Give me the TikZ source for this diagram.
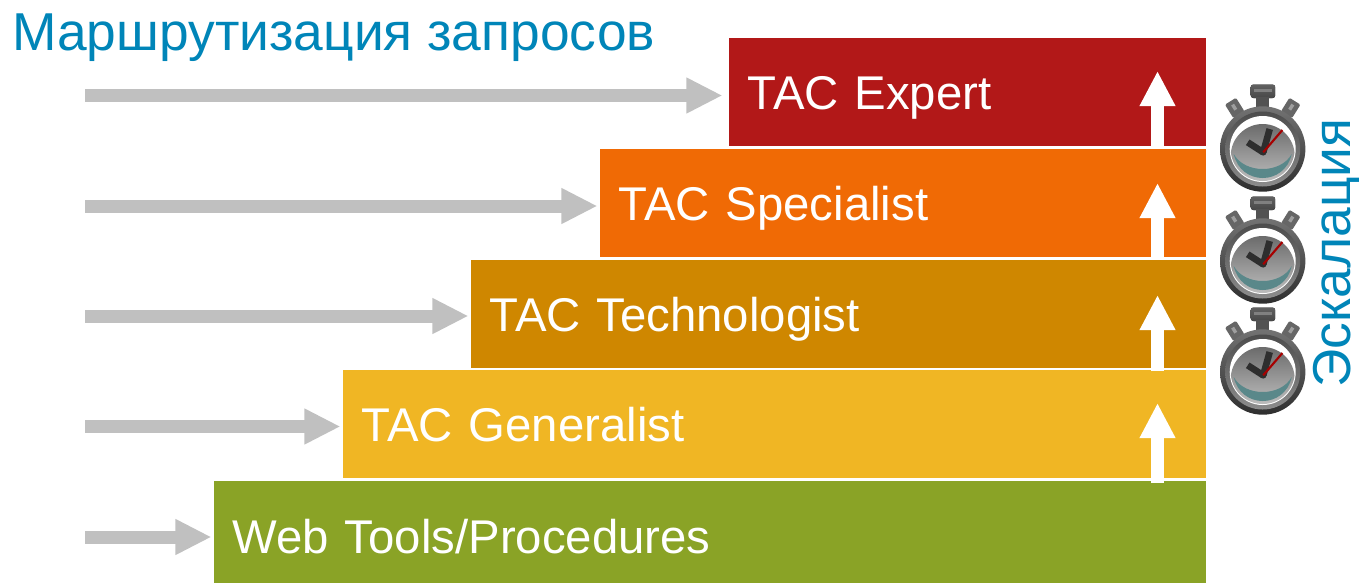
\documentclass[tikz,border=0pt]{standalone}
\usepackage{fontspec}
\setmainfont{Liberation Sans}
\usetikzlibrary{arrows.meta,calc}
\definecolor{cExpert}{HTML}{B21818}
\definecolor{cSpec}{HTML}{F06A05}
\definecolor{cTech}{HTML}{CF8700}
\definecolor{cGen}{HTML}{F0B624}
\definecolor{cWeb}{HTML}{8AA326}
\definecolor{cBlue}{HTML}{0085B8}
\definecolor{cGray}{HTML}{C0C0C0}
\definecolor{cDial}{HTML}{5A888A}
\tikzset{
  x=0.75pt,y=0.75pt,
  tier/.style={draw=none,rectangle,anchor=north east,minimum height=#1*0.75pt,inner xsep=14.25pt,inner ysep=0pt,
    font=\fontsize{35.5pt}{35.5pt}\selectfont,text=white,align=left,text depth=6pt,text height=31.5pt},
  heading/.style={inner sep=0pt,text=cBlue,font=\fontsize{40pt}{40pt}\selectfont},
  route/.style={draw=cGray,line width=9.75pt,-{Triangle[length=27pt,width=25pt]},shorten >=1.5pt},
  escal/.style={draw=white,line width=9.75pt,-{Triangle[length=26.25pt,width=25pt]}},
  stopwatch/.pic={
    % crown and lugs
    \fill[rounded corners=2pt,top color=black!62,bottom color=black!72] (-12,51) rectangle (12.5,64.5);
    \fill[black!50] (-9,57) rectangle (9,60);
    \fill[black!68] (-6.7,38) rectangle (6.7,52);
    \foreach \s in {1,-1}{
      \begin{scope}[shift={(\s*28,41)},rotate=\s*-32]
        \fill[rounded corners=1pt,black!60] (-6.5,-8) rectangle (6.5,8);
        \fill[black!38] (-1.7,-2) rectangle (1.7,4);
      \end{scope}
    }
    % case
    \shade[top color=black!55,bottom color=black!82] (0,0) circle[radius=42.7];
    \shade[top color=black!70,bottom color=black!45] (0,0) circle[radius=37.5];
    \fill[white] (0,0) circle[radius=33];
    % face
    \begin{scope}
      \clip (0,0) circle[radius=32];
      \shade[top color=black!58,bottom color=black!22] (0,-7) circle[radius=32];
    \end{scope}
    % dial crescent
    \fill[cDial] (-29,-5) .. controls (-22,-37) and (22,-37) .. (29,-5)
       .. controls (18,-25) and (-18,-25) .. (-29,-5) -- cycle;
    % hands
    \draw[line width=5pt,black!82] (7,20) -- (0.5,-3.3);
    \draw[line width=5pt,black!82] (-15,6.7) -- (0.5,-3.3);
    \fill[black!82] (0.5,-3.3) circle[radius=3.3];
    \draw[line width=1.6pt,red!65!black] (0.5,-3.3) -- (19.7,19);
  }
}
\begin{document}
\begin{tikzpicture}
\useasboundingbox (0,0) rectangle (1359,-583);
% tiers
\node[tier=102,fill=cWeb,minimum width=744pt,text width=715.5pt,text height=37.5pt] (web) at (1206,-481) {Web Tools/Procedures};
\node[tier=108,fill=cGen,minimum width=647.25pt,text width=618.75pt] (gen) at (1206,-370) {TAC Generalist};
\node[tier=108,fill=cTech,minimum width=551.25pt,text width=522.75pt] (tech) at (1206,-260) {TAC Technologist};
\node[tier=108,fill=cSpec,minimum width=454.5pt,text width=426pt] (spec) at (1206,-149) {TAC Specialist};
\node[tier=108,fill=cExpert,minimum width=357.75pt,text width=329.25pt] (exp) at (1206,-38) {TAC Expert};
% headings
\node[heading,anchor=base west] (title) at (12,-50) {Маршрутизация запросов};
\node[heading,anchor=base,rotate=90] (esc) at (1350,-253) {Эскалация};
% routing arrows
\coordinate (r1) at (85,-95.5);
\coordinate (r2) at (85,-206);
\coordinate (r3) at (85,-316);
\coordinate (r4) at (85,-426.5);
\coordinate (r5) at (85,-537);
\draw[route,shorten >=4.5pt] (r1) -- (r1 -| exp.west);
\draw[route] (r2) -- (r2 -| spec.west);
\draw[route] (r3) -- (r3 -| tech.west);
\draw[route] (r4) -- (r4 -| gen.west);
\draw[route] (r5) -- (r5 -| web.west);
% escalation arrows
\coordinate (e1) at (1157.5,-146);  \coordinate (t1) at (1157.5,-71);
\coordinate (e2) at (1157.5,-257);  \coordinate (t2) at (1157.5,-183);
\coordinate (e3) at (1157.5,-371);  \coordinate (t3) at (1157.5,-295);
\coordinate (e4) at (1157.5,-483);  \coordinate (t4) at (1157.5,-403);
\draw[escal] (e1) -- (t1);
\draw[escal] (e2) -- (t2);
\draw[escal] (e3) -- (t3);
\draw[escal] (e4) -- (t4);
% stopwatches
\pic at (1262.7,-149) {stopwatch};
\pic at (1262.7,-261) {stopwatch};
\pic at (1262.7,-372) {stopwatch};
\end{tikzpicture}
\end{document}
